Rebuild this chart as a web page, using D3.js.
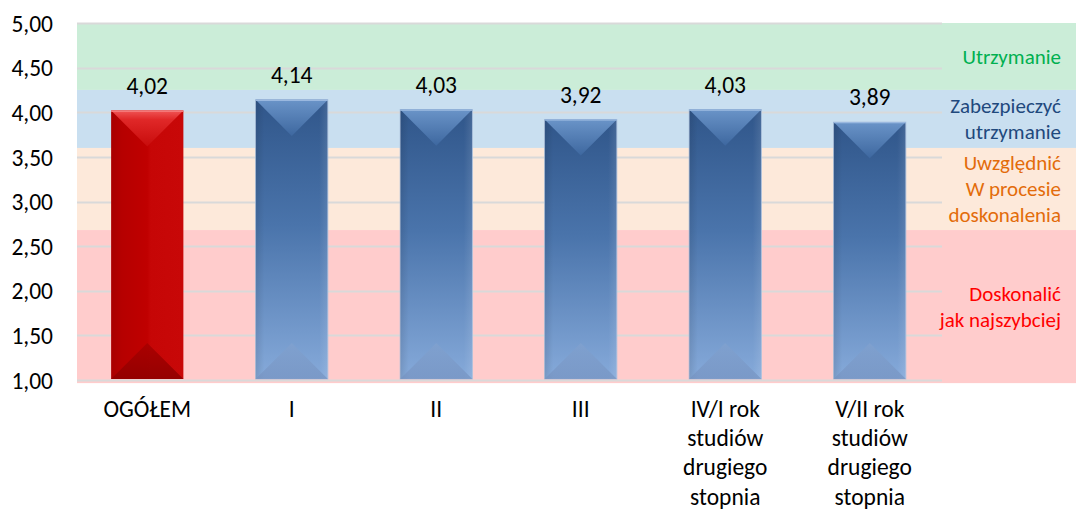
<!DOCTYPE html>
<html>
<head>
<meta charset="utf-8">
<script src="https://cdn.jsdelivr.net/npm/d3@7"></script>
<style>
  html, body { margin: 0; padding: 0; background: #fff; }
  svg { display: block; font-family: Carlito, Lato, "Liberation Sans", sans-serif; }
</style>
</head>
<body>
<svg id="chart" width="1076" height="510"></svg>
<script>
// ---- data ----
const categories = ["OGÓŁEM", "I", "II", "III", "IV/I rok studiów drugiego stopnia", "V/II rok studiów drugiego stopnia"];
const values = [4.02, 4.14, 4.03, 3.92, 4.03, 3.89];
const highlight = [true, false, false, false, false, false];
const yTicks = [1.0, 1.5, 2.0, 2.5, 3.0, 3.5, 4.0, 4.5, 5.0];

const bandLabels = [["Utrzymanie"], ["Zabezpieczyć", "utrzymanie"], ["Uwzględnić", "W procesie", "doskonalenia"], ["Doskonalić", "jak najszybciej"]];
const bandLow = [4.25, 3.6, 2.68, 0.965];
const bandHigh = [5.0, 4.25, 3.6, 2.68];
const bandFill = ["#cbedd8", "#c9dff0", "#fde9da", "#ffcccc"];
const bandText = ["#00b050", "#1f497d", "#e36c0a", "#ff0000"];

// ---- layout ----
const svg = d3.select("#chart");
const plotL = 77, plotR = 942, bandR = 1076;
const FS = 23.5;
const x = d3.scaleBand().domain(categories).range([75, 942]).paddingInner(0.5).paddingOuter(0.25);
const y = d3.scaleLinear().domain([1, 5]).range([380, 23]);
const fmt = v => d3.format(".2f")(v).replace(".", ",");

const defs = svg.append("defs");
function grad(id, stops, x2, y2) {
  const g = defs.append("linearGradient").attr("id", id)
    .attr("x1", 0).attr("y1", 0).attr("x2", x2).attr("y2", y2);
  stops.forEach(s => g.append("stop").attr("offset", s[0]).attr("stop-color", s[1]));
}
grad("blueBody", [[0, "#30568a"], [0.45, "#4a74ab"], [1, "#86aada"]], 0, 1);
grad("blueSide", [[0, "rgba(0,0,0,0.10)"], [0.12, "rgba(0,0,0,0)"], [0.88, "rgba(255,255,255,0)"], [1, "rgba(255,255,255,0.10)"]], 1, 0);
grad("blueTop", [[0, "#6d97cb"], [1, "#3e68a0"]], 0, 1);
grad("blueBot", [[0, "#82a2cf"], [1, "#7592c0"]], 0, 1);
grad("redBody", [[0, "#a80000"], [0.15, "#b60000"], [0.5, "#c00000"], [0.55, "#c60606"], [1, "#c80808"]], 1, 0);
grad("redTop", [[0, "#f25a5a"], [0.25, "#e22a2a"], [1, "#c80c0c"]], 0, 1);
grad("redBot", [[0, "#a80000"], [1, "#900000"]], 0, 1);

// bands
const bandsG = svg.append("g");
bandsG.selectAll("rect").data(bandFill).join("rect")
  .attr("x", plotL).attr("width", bandR - plotL)
  .attr("y", (d, i) => y(bandHigh[i]))
  .attr("height", (d, i) => y(bandLow[i]) - y(bandHigh[i]))
  .attr("fill", d => d);

// gridlines
const gridG = svg.append("g");
gridG.selectAll("line").data(yTicks).join("line")
  .attr("x1", plotL).attr("x2", plotR)
  .attr("y1", d => Math.round(y(d)) + 0.5).attr("y2", d => Math.round(y(d)) + 0.5)
  .attr("stroke", "#d9d9d9").attr("stroke-width", 2);

// y axis labels
const yAxis = d3.axisLeft(y).tickValues(yTicks).tickFormat(fmt).tickSize(0).tickPadding(0);
const ax = svg.append("g").attr("transform", "translate(53,0)").call(yAxis);
ax.select(".domain").remove();
ax.attr("font-size", FS).attr("font-family", null);
ax.selectAll("text").attr("font-size", FS).attr("fill", "#000").attr("dy", "0.35em");

// bars
const bw = x.bandwidth();
const barsG = svg.append("g");
categories.forEach((c, i) => {
  const x0 = x(c), x1 = x0 + bw, xc = x0 + bw / 2;
  const y0 = y(values[i]), y1 = y(1) - 1;
  const h = bw / 2;
  const red = highlight[i];
  const g = barsG.append("g");
  g.append("rect").attr("x", x0).attr("y", y0).attr("width", bw).attr("height", y1 - y0)
    .attr("fill", red ? "url(#redBody)" : "url(#blueBody)")
    .attr("stroke", red ? "none" : "#a9bfdc").attr("stroke-width", red ? 0 : 0.8);
  if (!red) g.append("rect").attr("x", x0).attr("y", y0).attr("width", bw).attr("height", y1 - y0).attr("fill", "url(#blueSide)");
  g.append("polygon")
    .attr("points", [[x0, y0], [x1, y0], [xc, y0 + h]].map(p => p.join(",")).join(" "))
    .attr("fill", red ? "url(#redTop)" : "url(#blueTop)").attr("opacity", 0.95);
  g.append("polygon")
    .attr("points", [[x0, y1], [x1, y1], [xc, y1 - h]].map(p => p.join(",")).join(" "))
    .attr("fill", red ? "url(#redBot)" : "url(#blueBot)").attr("opacity", red ? 0.9 : 0.7);
  if (red) g.append("rect").attr("x", x0).attr("y", y0).attr("width", bw).attr("height", 1.5).attr("fill", "#f47a7a");
  else g.append("rect").attr("x", x0).attr("y", y0).attr("width", bw).attr("height", 1.2).attr("fill", "#9dbbe0");
});

// data labels
svg.append("g").selectAll("text").data(values).join("text")
  .attr("x", (d, i) => x(categories[i]) + bw / 2)
  .attr("y", d => y(d) - 25)
  .attr("dy", "0.35em")
  .attr("text-anchor", "middle").attr("font-size", FS).attr("fill", "#000")
  .text(fmt);

// category labels (wrapped)
const catG = svg.append("g");
const measure = svg.append("text").attr("font-size", FS).attr("visibility", "hidden");
function wrap(str, maxW) {
  const words = str.split(" ");
  const lines = [];
  let cur = "";
  words.forEach(w => {
    const t = cur ? cur + " " + w : w;
    measure.text(t);
    if (cur && measure.node().getComputedTextLength() > maxW) { lines.push(cur); cur = w; }
    else cur = t;
  });
  if (cur) lines.push(cur);
  return lines;
}
categories.forEach(c => {
  const lines = wrap(c, 125);
  const t = catG.append("text").attr("text-anchor", "middle").attr("font-size", FS).attr("fill", "#000");
  lines.forEach((ln, k) => {
    t.append("tspan").attr("x", x(c) + bw / 2).attr("y", 417 + k * 29.2).text(ln);
  });
});
measure.remove();

// band labels
const blG = svg.append("g");
bandLabels.forEach((lines, i) => {
  const mid = (y(bandLow[i]) + y(bandHigh[i])) / 2;
  const t = blG.append("text").attr("text-anchor", "end").attr("font-size", 21).attr("fill", bandText[i]);
  lines.forEach((ln, k) => {
    t.append("tspan").attr("x", 1061).attr("y", mid + (k - (lines.length - 1) / 2) * 26).attr("dy", "0.35em").text(ln);
  });
});
</script>
</body>
</html>
